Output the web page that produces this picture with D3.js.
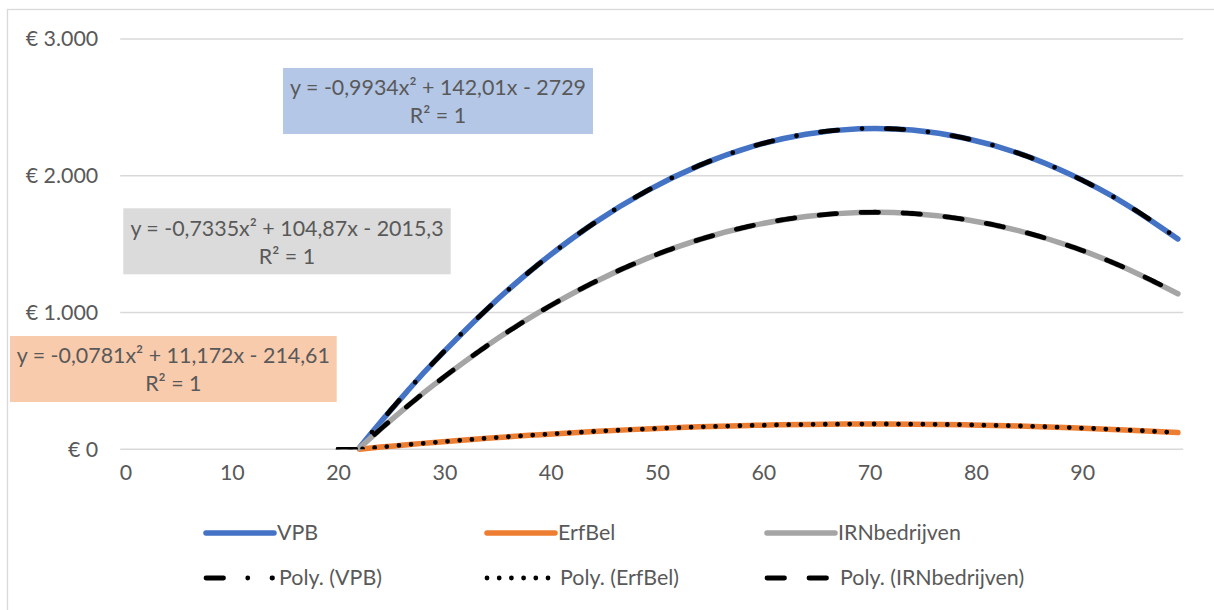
<!DOCTYPE html>
<html>
<head>
<meta charset="utf-8">
<script src="https://cdn.jsdelivr.net/npm/d3@7/dist/d3.min.js"></script>
<style>
  html, body { margin: 0; padding: 0; background: #fff; }
  svg { display: block; }
  text { font-family: Lato, "Open Sans", sans-serif; fill: #595959; }
</style>
</head>
<body>
<svg id="chart" width="1214" height="610"></svg>
<script>
// Categories: ages 0..99, labelled every ten years
const categories = d3.range(0, 100);
const tickAges = [0, 10, 20, 30, 40, 50, 60, 70, 80, 90];
const tickLabels = ["0", "10", "20", "30", "40", "50", "60", "70", "80", "90"];
const yTicks = [0, 1000, 2000, 3000];

// Sampled ages where the series are read
const sampleAges = [22, 24, 27, 29, 34, 39, 44, 49, 54, 59, 64, 69, 74, 79, 84, 89, 94, 99];
const vpbValues  = [12, 200, 468, 637, 1024, 1362, 1650, 1888, 2076, 2215, 2304, 2344, 2334, 2274, 2165, 2005, 1797, 1538];
const erfValues  = [1, 16, 37, 50, 81, 107, 130, 149, 164, 175, 182, 185, 184, 179, 171, 158, 142, 122];
const irnValues  = [9, 148, 346, 471, 757, 1006, 1218, 1394, 1534, 1636, 1702, 1731, 1724, 1680, 1599, 1482, 1327, 1137];

// Polynomial (order 2) trendline coefficients: a*x^2 + b*x + c, x = point index (age + 1)
const vpbTrend = [-0.9934, 142.01, -2729];
const erfTrend = [-0.0781, 11.172, -214.61];
const irnTrend = [-0.7335, 104.87, -2015.3];

const seriesNames = ["VPB", "ErfBel", "IRNbedrijven"];
const trendNames  = ["Poly. (VPB)", "Poly. (ErfBel)", "Poly. (IRNbedrijven)"];

const colors = { VPB: "#4472C4", ErfBel: "#ED7D31", IRNbedrijven: "#A5A5A5" };
const dashes = { VPB: "17.5 24.25 0 24.25", ErfBel: "0 12.2", IRNbedrijven: "17.5 24.5" };

const FONT = 21.4;
const nl = d3.formatLocale({ decimal: ",", thousands: ".", grouping: [3], currency: ["€ ", ""] });
const euro = nl.format("$,.0f");

const svg = d3.select("#chart");

// Outer chart frame
svg.append("rect")
  .attr("x", 7.5).attr("y", 9.5).attr("width", 1214).attr("height", 620)
  .attr("fill", "none").attr("stroke", "#D9D9D9").attr("stroke-width", 1.3);

const plot = { left: 120.2, right: 1183.2, top: 39, bottom: 449.3 };

svg.append("defs").append("clipPath").attr("id", "plot-clip")
  .append("rect")
  .attr("x", plot.left).attr("y", plot.top - 10)
  .attr("width", plot.right - plot.left + 10).attr("height", plot.bottom - plot.top + 10);

// Category centres on a continuous scale so the trendline can be sampled between points
const x = d3.scaleLinear().domain([-0.5, categories.length - 0.5]).range([plot.left, plot.right]);
const y = d3.scaleLinear().domain([0, 3000]).range([plot.bottom, plot.top]);

// Horizontal gridlines
svg.append("g")
  .selectAll("line").data(yTicks).join("line")
  .attr("x1", plot.left).attr("x2", plot.right)
  .attr("y1", d => y(d)).attr("y2", d => y(d))
  .attr("stroke", "#D9D9D9").attr("stroke-width", 1.4);

// Y axis labels
const yAxis = svg.append("g")
  .attr("transform", `translate(${plot.left - 22},0)`)
  .call(d3.axisLeft(y).tickValues(yTicks).tickSize(0).tickPadding(0).tickFormat(euro));
yAxis.select(".domain").remove();
yAxis.selectAll("text").attr("font-size", FONT).attr("fill", "#595959")
  .style("font-family", "Lato, sans-serif");

// X axis labels
const xAxis = svg.append("g")
  .attr("transform", `translate(0,${plot.bottom + 18})`)
  .call(d3.axisBottom(x).tickValues(tickAges).tickSize(0).tickPadding(0)
    .tickFormat((d, i) => tickLabels[i]));
xAxis.select(".domain").remove();
xAxis.selectAll("text").attr("font-size", FONT).attr("fill", "#595959")
  .attr("dy", "0.6em")
  .style("font-family", "Lato, sans-serif");

// Data series
const seriesData = [
  { name: "VPB", values: vpbValues, trend: vpbTrend },
  { name: "ErfBel", values: erfValues, trend: erfTrend },
  { name: "IRNbedrijven", values: irnValues, trend: irnTrend }
];

const dataLine = d3.line()
  .x(d => x(d[0])).y(d => y(d[1]))
  .curve(d3.curveNatural);

svg.append("g").selectAll("path").data(seriesData).join("path")
  .attr("d", s => dataLine(sampleAges.map((a, i) => [a, s.values[i]])))
  .attr("fill", "none")
  .attr("stroke", s => colors[s.name])
  .attr("stroke-width", 5.5)
  .attr("stroke-linecap", "round")
  .attr("stroke-linejoin", "round");

// Trendlines, sampled from the fitted polynomial and clipped at the bottom of the plot area
const poly = (c, t) => c[0] * t * t + c[1] * t + c[2];
const trendIdx = d3.range(21, 100.001, 0.25);
const trendLine = d3.line()
  .x(t => x(t - 1))
  .curve(d3.curveLinear);

svg.append("g").attr("clip-path", "url(#plot-clip)")
  .selectAll("path").data(seriesData).join("path")
  .attr("d", s => trendLine.y(t => y(Math.max(0, poly(s.trend, t))))(trendIdx))
  .attr("fill", "none")
  .attr("stroke", "#000")
  .attr("stroke-width", 4.8)
  .attr("stroke-linecap", "round")
  .attr("stroke-dasharray", s => dashes[s.name]);

// Trendline equation labels
const fmtNum = v => String(Math.abs(v)).replace(".", ",");
const equation = c =>
  `y = ${c[0] < 0 ? "-" : ""}${fmtNum(c[0])}x² ${c[1] < 0 ? "-" : "+"} ${fmtNum(c[1])}x ${c[2] < 0 ? "-" : "+"} ${fmtNum(c[2])}`;

const labelBoxes = [
  { name: "VPB", fill: "#B4C7E7", x: 283, y: 68, w: 310, h: 66, coef: vpbTrend },
  { name: "IRNbedrijven", fill: "#DBDBDB", x: 123.3, y: 208.3, w: 327.4, h: 66, coef: irnTrend },
  { name: "ErfBel", fill: "#F8CBAD", x: 10, y: 336, w: 326.7, h: 66, coef: erfTrend }
];

const lbl = svg.append("g").selectAll("g").data(labelBoxes).join("g")
  .attr("transform", d => `translate(${d.x},${d.y})`);
lbl.append("rect").attr("width", d => d.w).attr("height", d => d.h).attr("fill", d => d.fill);
lbl.append("text").attr("x", d => d.w / 2).attr("y", 20).attr("dy", "0.35em")
  .attr("text-anchor", "middle").attr("font-size", FONT)
  .text(d => equation(d.coef));
lbl.append("text").attr("x", d => d.w / 2).attr("y", 48).attr("dy", "0.35em")
  .attr("text-anchor", "middle").attr("font-size", FONT)
  .text("R² = 1");

// Legend: data series on the first row, trendlines on the second
const legendCols = [204, 485, 765];
const legendRows = [533, 578];
const legend = svg.append("g");

seriesNames.forEach((name, i) => {
  const x0 = legendCols[i];
  legend.append("line")
    .attr("x1", x0 + 2).attr("x2", x0 + 70)
    .attr("y1", legendRows[0]).attr("y2", legendRows[0])
    .attr("stroke", colors[name]).attr("stroke-width", 5.5).attr("stroke-linecap", "round");
  legend.append("text")
    .attr("x", x0 + 73).attr("y", legendRows[0]).attr("dy", "0.35em")
    .attr("font-size", FONT).text(name);

  legend.append("line")
    .attr("x1", x0 + 2).attr("x2", x0 + 68.5)
    .attr("y1", legendRows[1]).attr("y2", legendRows[1])
    .attr("stroke", "#000").attr("stroke-width", 4.8).attr("stroke-linecap", "round")
    .attr("stroke-dasharray", dashes[name]);
  legend.append("text")
    .attr("x", x0 + 75).attr("y", legendRows[1]).attr("dy", "0.35em")
    .attr("font-size", FONT).text(trendNames[i]);
});
</script>
</body>
</html>
